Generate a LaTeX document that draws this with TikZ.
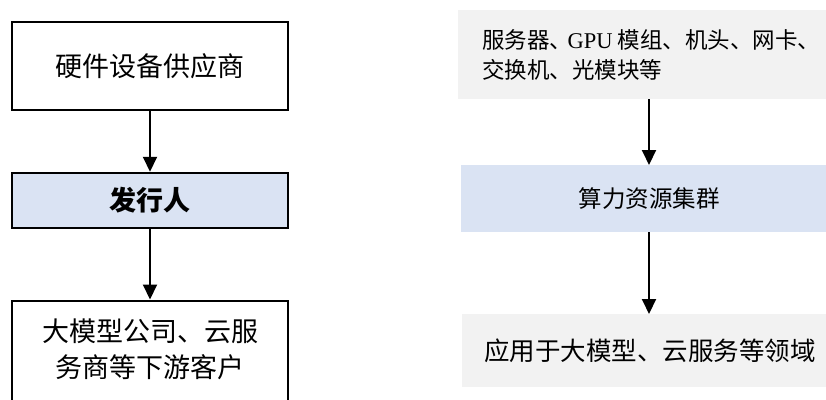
\documentclass[tikz,border=0pt]{standalone}
\usepackage{fontspec}
\setmainfont{Noto Sans CJK SC}
\newfontfamily\latinserif{Liberation Serif}
\usetikzlibrary{arrows.meta}
\definecolor{boxblue}{HTML}{DAE3F3}
\definecolor{boxgray}{HTML}{F2F2F2}
\begin{document}
\begin{tikzpicture}[x=1pt,y=-1pt,
  lbox/.style={draw=black, line width=2.5pt, fill=white, inner sep=0pt, minimum width=276pt, align=center, font=\fontsize{27}{36}\selectfont},
  rbox/.style={draw=none, fill=boxgray, inner sep=0pt},
  arr/.style={line width=2pt, -{Triangle[width=14pt,length=15pt]}}]
\useasboundingbox (0,0) rectangle (826,399);
\node[lbox, minimum height=88pt] (l1) at (150,66) {硬件设备供应商};
\node[lbox, fill=boxblue, minimum height=55pt, font=\fontsize{27}{36}\selectfont\bfseries] (l2) at (150,200.5) {发行人};
\node[lbox, anchor=north, inner ysep=18pt] (l3) at (150,299.5) {大模型公司、云服\\务商等下游客户\rule[-30pt]{0pt}{30pt}};
\node[rbox, anchor=north west, minimum height=89pt, inner xsep=24pt, align=left, font=\fontsize{22.5}{30}\selectfont] (r1) at (458,10) {服务器、\hspace{-0.2em}{\latinserif GPU} 模组、机头、网卡、\\交换机、光模块等};
\node[rbox, fill=boxblue, anchor=north west, minimum width=376pt, minimum height=67pt, font=\fontsize{23.5}{30}\selectfont] (r2) at (461,165) {算力资源集群};
\node[rbox, anchor=north west, minimum width=376pt, minimum height=73pt, font=\fontsize{25.5}{30}\selectfont] (r3) at (462,314) {应用于大模型、云服务等领域};
\coordinate (ax) at (649,0);
\draw[arr] (l1.south) -- (l2.north);
\draw[arr] (l2.south) -- (l3.north);
\draw[arr] (r1.south -| ax) -- (r2.north -| ax);
\draw[arr] (r2.south -| ax) -- (r3.north -| ax);
\end{tikzpicture}
\end{document}
